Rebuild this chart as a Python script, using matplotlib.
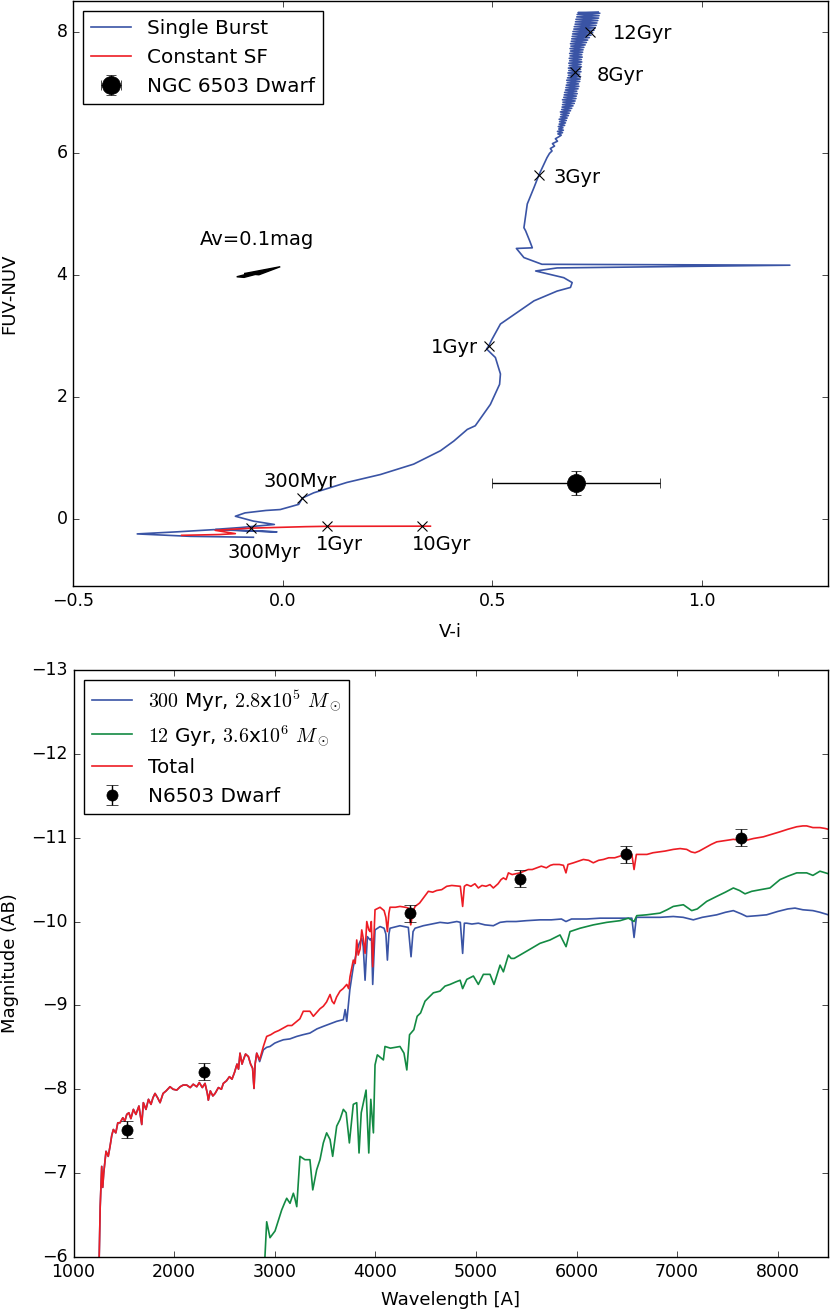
import matplotlib
matplotlib.use('Agg')
from matplotlib import pyplot as plt

plt.style.use('classic')
plt.rcParams['font.family'] = ['DejaVu Sans']
plt.rcParams['mathtext.fontset'] = 'cm'

BLUE = '#3a54a5'
RED = '#ed1c24'
GREEN = '#138a43'

# ---- top panel: colour-colour tracks (V-i, FUV-NUV) ----
burst_track = [
    (-0.07, -0.30), (-0.22, -0.285), (-0.347, -0.245), (-0.25, -0.21),
    (-0.165, -0.175), (-0.10, -0.19), (-0.014, -0.212), (-0.09, -0.19),
    (-0.16, -0.17), (-0.10, -0.14), (-0.02, -0.09), (-0.07, -0.035),
    (-0.113, 0.045), (-0.09, 0.10), (-0.04, 0.14), (-0.006, 0.155),
    (0.038, 0.24), (0.047, 0.345), (0.074, 0.43), (0.12, 0.53),
    (0.153, 0.60), (0.233, 0.73), (0.312, 0.90), (0.376, 1.12),
    (0.408, 1.28), (0.44, 1.47), (0.459, 1.53), (0.495, 1.88),
    (0.517, 2.21), (0.519, 2.38), (0.507, 2.65), (0.486, 2.79),
    (0.491, 2.84), (0.499, 2.95), (0.519, 3.20), (0.559, 3.39),
    (0.599, 3.58), (0.654, 3.74), (0.686, 3.80), (0.69, 3.88),
    (0.67, 3.96), (0.603, 4.07), (0.654, 4.12), (1.209, 4.165),
    (0.618, 4.18), (0.575, 4.29), (0.557, 4.44), (0.595, 4.45),
    (0.589, 4.56), (0.579, 4.73), (0.575, 4.78), (0.583, 5.17),
    (0.599, 5.44), (0.611, 5.65), (0.630, 5.93), (0.636, 6.00),
    (0.642, 6.04), (0.638, 6.08), (0.648, 6.12), (0.643, 6.16),
    (0.655, 6.20), (0.650, 6.24), (0.660, 6.28),
    (0.664, 6.30), (0.656, 6.32), (0.667, 6.34), (0.655, 6.36),
    (0.669, 6.38), (0.658, 6.40), (0.668, 6.42), (0.657, 6.44),
    (0.672, 6.46), (0.659, 6.48), (0.674, 6.50), (0.660, 6.52),
    (0.676, 6.54), (0.659, 6.56), (0.678, 6.58), (0.662, 6.60),
    (0.681, 6.62), (0.663, 6.64), (0.683, 6.66), (0.662, 6.68),
    (0.686, 6.70), (0.665, 6.72), (0.689, 6.74), (0.666, 6.76),
    (0.692, 6.78), (0.667, 6.80), (0.695, 6.82), (0.668, 6.84),
    (0.697, 6.86), (0.667, 6.88), (0.699, 6.90), (0.670, 6.92),
    (0.700, 6.94), (0.671, 6.96), (0.702, 6.98), (0.672, 7.00),
    (0.701, 7.02), (0.674, 7.04), (0.704, 7.06), (0.675, 7.08),
    (0.706, 7.10), (0.676, 7.12), (0.705, 7.14), (0.678, 7.16),
    (0.708, 7.18), (0.677, 7.20), (0.709, 7.22), (0.679, 7.24),
    (0.710, 7.26), (0.681, 7.28), (0.708, 7.30), (0.680, 7.32),
    (0.711, 7.34), (0.682, 7.36), (0.710, 7.38), (0.681, 7.40),
    (0.712, 7.42), (0.683, 7.44), (0.711, 7.46), (0.682, 7.48),
    (0.713, 7.50), (0.684, 7.52), (0.712, 7.54), (0.683, 7.56),
    (0.714, 7.58), (0.685, 7.60), (0.713, 7.62), (0.684, 7.64),
    (0.715, 7.66), (0.686, 7.68), (0.716, 7.70), (0.685, 7.72),
    (0.718, 7.74), (0.687, 7.76), (0.721, 7.78), (0.686, 7.80),
    (0.724, 7.82), (0.688, 7.84), (0.727, 7.86), (0.689, 7.88),
    (0.731, 7.90), (0.690, 7.92), (0.735, 7.94), (0.691, 7.96),
    (0.739, 7.98), (0.692, 8.00), (0.742, 8.02), (0.694, 8.04),
    (0.745, 8.06), (0.695, 8.08), (0.747, 8.10), (0.697, 8.12),
    (0.749, 8.14), (0.698, 8.16), (0.751, 8.18), (0.699, 8.20),
    (0.753, 8.22), (0.701, 8.24), (0.754, 8.26), (0.702, 8.28),
    (0.756, 8.30), (0.704, 8.31), (0.752, 8.32),
]
csf_track = [
    (-0.241, -0.268), (-0.15, -0.255), (-0.113, -0.24), (-0.161, -0.186),
    (-0.075, -0.150), (0.054, -0.126), (0.105, -0.120), (0.332, -0.118),
    (0.352, -0.118),
]

burst_ages = ['300Myr', '1Gyr', '3Gyr', '8Gyr', '12Gyr']
burst_age_vi = [0.047, 0.491, 0.611, 0.696, 0.732]
burst_age_fn = [0.345, 2.84, 5.65, 7.34, 7.99]
burst_label_vi = [-0.047, 0.354, 0.645, 0.748, 0.786]
burst_label_fn = [0.62, 2.81, 5.60, 7.27, 7.97]

csf_ages = ['300Myr', '1Gyr', '10Gyr']
csf_age_vi = [-0.075, 0.105, 0.332]
csf_age_fn = [-0.150, -0.120, -0.118]
csf_label_vi = [-0.131, 0.080, 0.308]
csf_label_fn = [-0.55, -0.42, -0.42]

dwarf_vi, dwarf_vi_err = 0.70, 0.2
dwarf_fn, dwarf_fn_err = 0.59, 0.2

# ---- bottom panel: model spectra (wavelength [A], AB mag) ----
uv_part = [
    (1245, -5.5), (1256, -6.05), (1265, -6.6), (1280, -7.08), (1290, -6.83),
    (1300, -7.0), (1323, -7.26), (1345, -7.2), (1363, -7.32), (1380, -7.45),
    (1396, -7.52), (1420, -7.48), (1440, -7.6), (1462, -7.60), (1490, -7.66),
    (1510, -7.62), (1529, -7.70), (1550, -7.72), (1570, -7.65), (1595, -7.76),
    (1620, -7.70), (1650, -7.80), (1678, -7.58), (1694, -7.84), (1720, -7.76),
    (1745, -7.88), (1770, -7.82), (1790, -7.90), (1810, -7.95), (1835, -7.90),
    (1860, -7.84), (1890, -7.95), (1920, -7.98), (1959, -8.03), (1990, -8.0),
    (2026, -7.99), (2060, -8.03), (2090, -8.05), (2125, -8.05), (2160, -8.02),
    (2190, -8.06), (2225, -8.03), (2250, -8.08), (2280, -8.02), (2307, -8.07),
    (2330, -7.95), (2340, -7.87), (2360, -7.98), (2385, -7.92), (2407, -7.95),
    (2440, -8.02), (2470, -8.0), (2489, -8.07), (2520, -8.1), (2550, -8.15),
    (2575, -8.12), (2600, -8.2), (2625, -8.3), (2640, -8.24), (2655, -8.43),
    (2675, -8.3), (2688, -8.35), (2710, -8.42), (2738, -8.39), (2760, -8.3),
    (2780, -8.25), (2794, -8.01), (2805, -8.3), (2821, -8.43),
]
young_optical = [
    (2850, -8.33), (2887, -8.47), (2920, -8.5), (2953, -8.51), (3000, -8.55),
    (3040, -8.57), (3086, -8.59), (3150, -8.6), (3219, -8.63), (3280, -8.65),
    (3350, -8.67), (3420, -8.72), (3483, -8.75), (3550, -8.78), (3616, -8.81),
    (3682, -8.83), (3700, -8.95), (3716, -8.81), (3747, -9.19), (3781, -9.46),
    (3815, -9.64), (3840, -9.74), (3865, -9.80), (3880, -9.7), (3898, -9.30),
    (3921, -9.82), (3948, -9.78), (3962, -9.8), (3974, -9.25), (3997, -9.90),
    (4047, -9.94), (4087, -9.92), (4105, -9.85), (4120, -9.54), (4135, -9.85),
    (4146, -9.92), (4245, -9.95), (4328, -9.93), (4355, -9.58), (4375, -9.88),
    (4395, -9.92), (4477, -9.95), (4560, -9.97), (4643, -9.99), (4720, -9.98),
    (4810, -10.0), (4845, -9.99), (4868, -9.62), (4885, -9.98), (4909, -9.98),
    (4960, -9.97), (5024, -9.98), (5090, -9.96), (5173, -9.95), (5240, -9.99),
    (5306, -10.0), (5400, -10.0), (5500, -10.01), (5637, -10.02), (5750, -10.02),
    (5850, -10.03), (5895, -10.0), (5950, -10.03), (6100, -10.03), (6233, -10.04),
    (6400, -10.04), (6550, -10.04), (6572, -9.81), (6595, -10.05), (6700, -10.05),
    (6830, -10.05), (6962, -10.06), (7060, -10.05), (7161, -10.02), (7250, -10.05),
    (7394, -10.08), (7480, -10.11), (7559, -10.13), (7640, -10.09), (7692, -10.06),
    (7800, -10.07), (7890, -10.08), (8000, -10.12), (8100, -10.15), (8172, -10.16),
    (8250, -10.14), (8350, -10.13), (8420, -10.11), (8503, -10.08),
]
old_spec = [
    (2895, -5.5), (2903, -6.01), (2920, -6.42), (2953, -6.23), (3003, -6.31),
    (3040, -6.45), (3069, -6.56), (3100, -6.65), (3119, -6.70), (3152, -6.64),
    (3185, -6.76), (3200, -6.7), (3219, -6.60), (3251, -7.20), (3300, -7.16),
    (3350, -7.16), (3378, -6.80), (3417, -7.04), (3450, -7.16), (3483, -7.36),
    (3516, -7.48), (3550, -7.40), (3576, -7.20), (3616, -7.56), (3649, -7.64),
    (3682, -7.76), (3710, -7.72), (3742, -7.36), (3781, -7.82), (3815, -7.84),
    (3838, -7.24), (3860, -7.72), (3908, -7.99), (3935, -7.24), (3955, -7.88),
    (3981, -7.48), (3997, -8.29), (4020, -8.41), (4050, -8.38), (4080, -8.35),
    (4096, -8.51), (4150, -8.49), (4200, -8.50), (4245, -8.51), (4285, -8.43),
    (4313, -8.23), (4340, -8.65), (4383, -8.71), (4416, -8.87), (4450, -8.91),
    (4494, -9.05), (4527, -9.09), (4577, -9.15), (4643, -9.17), (4693, -9.23),
    (4743, -9.25), (4800, -9.28), (4843, -9.30), (4868, -9.20), (4909, -9.31),
    (4975, -9.35), (5024, -9.25), (5074, -9.37), (5140, -9.37), (5180, -9.25),
    (5240, -9.48), (5273, -9.40), (5323, -9.60), (5350, -9.56), (5380, -9.56),
    (5438, -9.60), (5538, -9.67), (5637, -9.74), (5737, -9.78), (5836, -9.84),
    (5896, -9.70), (5935, -9.88), (6035, -9.92), (6167, -9.96), (6300, -9.99),
    (6432, -10.01), (6516, -10.04), (6572, -10.0), (6599, -10.07), (6697, -10.08),
    (6829, -10.10), (6900, -10.14), (6962, -10.18), (7062, -10.20), (7145, -10.13),
    (7200, -10.15), (7294, -10.24), (7394, -10.30), (7480, -10.35), (7559, -10.40),
    (7620, -10.37), (7675, -10.33), (7741, -10.36), (7830, -10.38), (7923, -10.40),
    (8023, -10.50), (8100, -10.54), (8189, -10.58), (8288, -10.58), (8350, -10.55),
    (8420, -10.60), (8503, -10.57),
]
total_optical = [
    (2850, -8.35), (2887, -8.51), (2920, -8.63), (2960, -8.65), (3000, -8.68),
    (3040, -8.7), (3086, -8.73), (3130, -8.76), (3170, -8.76), (3219, -8.81),
    (3250, -8.84), (3284, -8.93), (3320, -8.93), (3350, -8.93), (3384, -8.87),
    (3420, -8.92), (3450, -8.96), (3483, -8.99), (3515, -9.04), (3550, -9.13),
    (3570, -9.05), (3590, -9.02), (3615, -9.1), (3649, -9.17), (3680, -9.2),
    (3716, -9.25), (3735, -9.2), (3748, -9.34), (3781, -9.54), (3800, -9.5),
    (3815, -9.78), (3830, -9.6), (3848, -9.67), (3865, -9.90), (3880, -9.8),
    (3898, -9.62), (3915, -10.0), (3935, -9.9), (3948, -9.88), (3960, -10.0),
    (3974, -9.46), (3997, -10.14), (4047, -10.17), (4087, -10.13), (4105, -10.05),
    (4120, -9.88), (4135, -10.1), (4146, -10.17), (4200, -10.17), (4245, -10.18),
    (4300, -10.17), (4328, -10.16), (4352, -9.96), (4375, -10.12), (4395, -10.18),
    (4440, -10.22), (4477, -10.28), (4527, -10.36), (4570, -10.35), (4610, -10.37),
    (4660, -10.38), (4710, -10.42), (4760, -10.43), (4845, -10.42), (4868, -10.18),
    (4885, -10.42), (4909, -10.44), (4950, -10.42), (4990, -10.45), (5024, -10.40),
    (5060, -10.43), (5100, -10.42), (5140, -10.44), (5173, -10.40), (5220, -10.45),
    (5250, -10.50), (5273, -10.52), (5300, -10.50), (5323, -10.58), (5360, -10.56),
    (5400, -10.57), (5438, -10.58), (5480, -10.60), (5520, -10.62), (5560, -10.62),
    (5604, -10.64), (5650, -10.66), (5700, -10.64), (5740, -10.67), (5770, -10.68),
    (5830, -10.68), (5870, -10.67), (5895, -10.58), (5915, -10.68), (5970, -10.70),
    (6020, -10.72), (6068, -10.74), (6120, -10.73), (6167, -10.70), (6220, -10.73),
    (6267, -10.74), (6320, -10.76), (6380, -10.76), (6432, -10.78), (6490, -10.79),
    (6550, -10.80), (6572, -10.62), (6595, -10.80), (6640, -10.80), (6700, -10.80),
    (6760, -10.82), (6820, -10.83), (6880, -10.84), (6962, -10.86), (7030, -10.87),
    (7095, -10.86), (7140, -10.83), (7178, -10.82), (7220, -10.84), (7294, -10.89),
    (7340, -10.92), (7394, -10.95), (7450, -10.96), (7510, -10.97), (7559, -10.98),
    (7620, -10.97), (7692, -10.97), (7760, -10.99), (7857, -11.01), (7940, -11.04),
    (8023, -11.07), (8100, -11.10), (8189, -11.13), (8250, -11.14), (8288, -11.14),
    (8350, -11.12), (8420, -11.12), (8470, -11.11), (8503, -11.10),
]

phot_wave = [1530, 2300, 4345, 5435, 6490, 7640]
phot_mag = [-7.52, -8.21, -10.10, -10.51, -10.80, -11.00]
phot_err = [0.1, 0.1, 0.1, 0.1, 0.1, 0.1]

fig = plt.figure(figsize=(8.3, 13.11), dpi=100, facecolor='white')

# top
ax1 = fig.add_axes([0.088, 0.553, 0.9096, 0.4462])
bx, by = zip(*burst_track)
cx, cy = zip(*csf_track)
ax1.plot(bx, by, color=BLUE, lw=1.2, label='Single Burst')
ax1.plot(cx, cy, color=RED, lw=1.2, label='Constant SF')
ax1.plot(burst_age_vi, burst_age_fn, 'x', color='k', ms=7, mew=0.8)
ax1.plot(csf_age_vi, csf_age_fn, 'x', color='k', ms=7, mew=0.8)
for name, x, y in zip(burst_ages, burst_label_vi, burst_label_fn):
    ax1.text(x, y, name, fontsize=14, ha='left', va='center')
for name, x, y in zip(csf_ages, csf_label_vi, csf_label_fn):
    ax1.text(x, y, name, fontsize=14, ha='left', va='center')
ax1.errorbar([dwarf_vi], [dwarf_fn], xerr=[dwarf_vi_err], yerr=[dwarf_fn_err],
             fmt='o', color='k', ms=13, capsize=3.5, elinewidth=1,
             label='NGC 6503 Dwarf')
ax1.arrow(-0.101, 3.97, 0.095, 0.17, width=0.02, head_width=0.04,
          head_length=0.14, length_includes_head=True, fc='k', ec='k')
ax1.text(-0.197, 4.58, 'Av=0.1mag', fontsize=14, ha='left', va='center')
ax1.set_xlim(-0.5, 1.3)
ax1.set_ylim(-1.1, 8.5)
ax1.set_xticks([-0.5, 0.0, 0.5, 1.0])
ax1.set_yticks([0, 2, 4, 6, 8])
ax1.tick_params(labelsize=12.5)
ax1.set_xlabel('V-i', fontsize=13)
ax1.set_ylabel('FUV-NUV', fontsize=13)
ax1.xaxis.set_label_coords(0.5, -0.063)
ax1.yaxis.set_label_coords(-0.072, 0.5)
ax1.legend(loc='upper left', numpoints=1, fontsize=14.4)

# bottom
ax2 = fig.add_axes([0.0886, 0.0412, 0.909, 0.4478])
yw, ym = zip(*(uv_part + young_optical))
ow, om = zip(*old_spec)
tw, tm = zip(*(uv_part + total_optical))
ax2.plot(yw, ym, color=BLUE, lw=1.2,
         label=r'$300$ Myr, $2.8$x$10^5$ $M_\odot$')
ax2.plot(ow, om, color=GREEN, lw=1.2,
         label=r'$12$ Gyr, $3.6$x$10^6$ $M_\odot$')
ax2.plot(tw, tm, color=RED, lw=1.2, label='Total')
ax2.errorbar(phot_wave, phot_mag, yerr=phot_err, fmt='o', color='k', ms=8,
             capsize=4, elinewidth=1, label='N6503 Dwarf')
ax2.set_xlim(1000, 8500)
ax2.set_ylim(-6, -13)
ax2.set_xticks(range(1000, 8001, 1000))
ax2.set_yticks([-13, -12, -11, -10, -9, -8, -7, -6])
ax2.tick_params(labelsize=12.5)
ax2.set_xlabel('Wavelength [A]', fontsize=13)
ax2.set_ylabel('Magnitude (AB)', fontsize=13)
ax2.xaxis.set_label_coords(0.5, -0.058)
ax2.yaxis.set_label_coords(-0.072, 0.5)
ax2.legend(loc='upper left', numpoints=1, fontsize=14.4)

fig.savefig('out.png', dpi=100, facecolor='white')
